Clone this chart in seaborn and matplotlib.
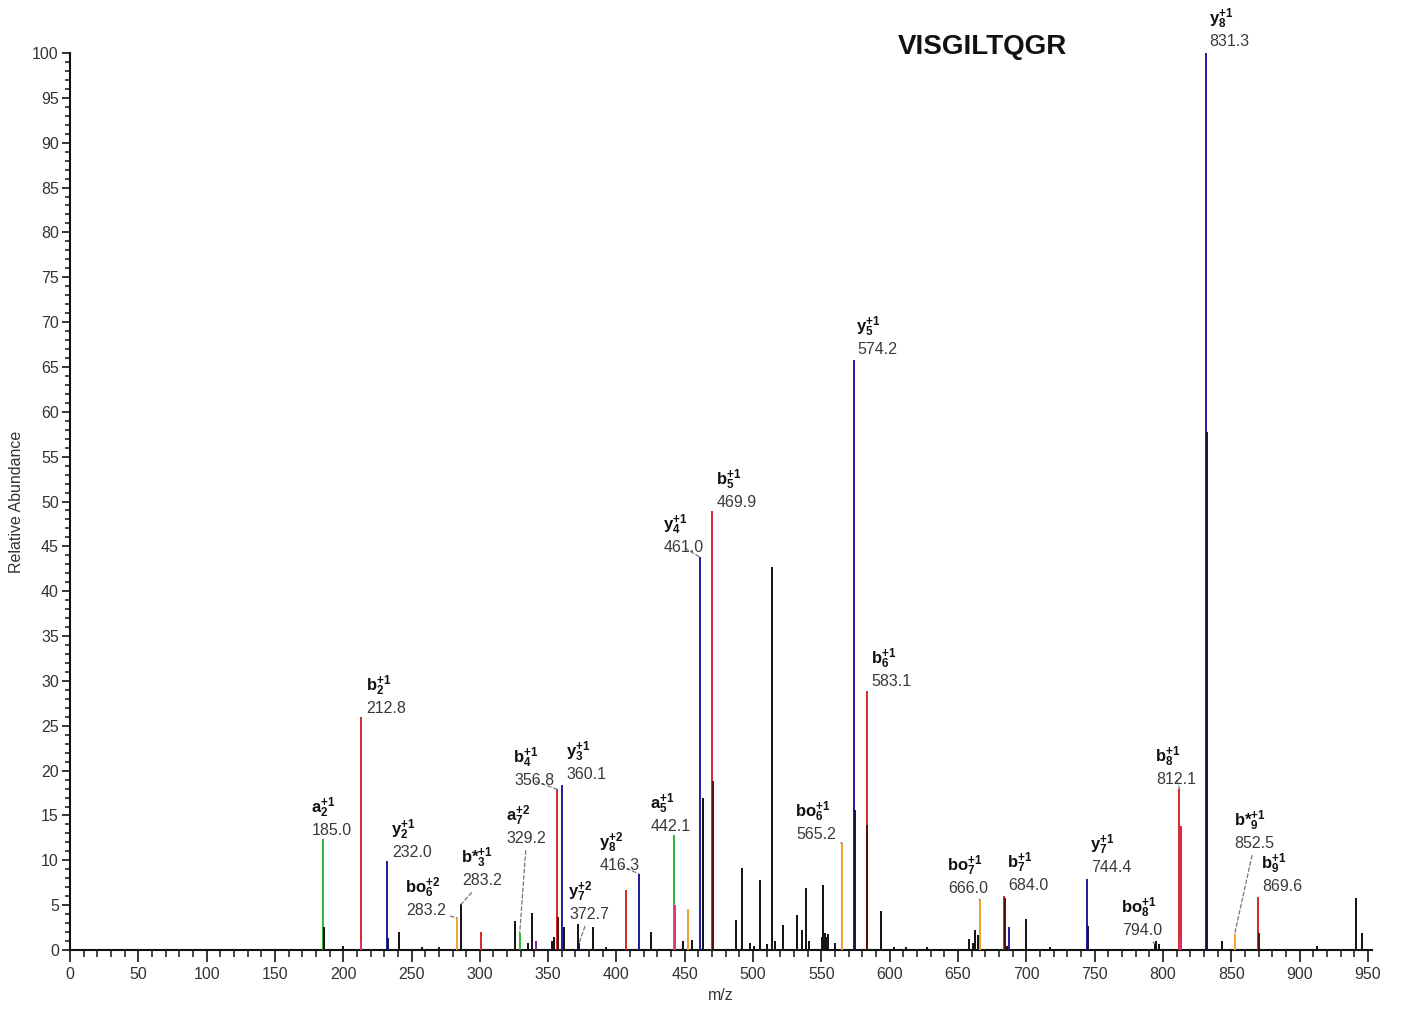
import numpy as np
import pandas as pd
import seaborn as sns
import matplotlib.pyplot as plt
from matplotlib.ticker import MultipleLocator

# Annotated fragment ions (peak position, intensity, label number, ion type)
ion_names = ["a", "b", "y", "bo", "b*", "a", "b", "y", "y", "y", "a", "y", "b",
             "bo", "y", "b", "bo", "b", "y", "bo", "b", "y", "b*", "b"]
ion_index = ["2", "2", "2", "6", "3", "7", "4", "3", "7", "8", "5", "4", "5",
             "6", "5", "6", "7", "7", "7", "8", "8", "8", "9", "9"]
ion_charge = ["+1", "+1", "+1", "+2", "+1", "+2", "+1", "+1", "+2", "+2", "+1", "+1", "+1",
              "+1", "+1", "+1", "+1", "+1", "+1", "+1", "+1", "+1", "+1", "+1"]
ion_text = ["185.0", "212.8", "232.0", "283.2", "283.2", "329.2", "356.8", "360.1",
            "372.7", "416.3", "442.1", "461.0", "469.9", "565.2", "574.2", "583.1",
            "666.0", "684.0", "744.4", "794.0", "812.1", "831.3", "852.5", "869.6"]
ion_mz = [185.0, 212.8, 232.0, 283.2, 286.3, 329.2, 356.8, 360.1, 372.7, 416.3,
          442.1, 461.0, 469.9, 565.2, 574.2, 583.1, 666.0, 684.0, 744.4, 794.0,
          812.1, 831.3, 852.5, 869.6]
ion_int = [12.4, 26.0, 9.9, 3.6, 5.1, 1.9, 17.9, 18.4, 0.8, 8.5, 12.8, 43.8, 48.9,
           11.9, 65.8, 28.9, 5.6, 6.0, 7.9, 0.7, 18.0, 100.0, 1.8, 5.9]
ion_kind = ["a", "b", "y", "bo", "other", "a", "b", "y", "ydark", "y", "a", "y", "b",
            "bo", "y", "b", "bo", "b", "y", "other", "b", "y", "bo", "b"]

# Secondary coloured peaks next to the annotated ones
extra_mz = [213.3, 232.5, 301.0, 341.0, 357.4, 407.0, 442.7, 452.4, 470.5, 574.8,
            583.7, 684.6, 687.5, 745.0, 812.9, 812.5, 831.9, 870.0, 666.4]
extra_int = [0.9, 1.3, 2.0, 1.0, 3.7, 6.7, 5.0, 4.6, 18.8, 15.6,
             13.9, 5.8, 2.6, 2.7, 13.8, 1.3, 57.7, 1.9, 4.0]
extra_kind = ["pink", "ydark", "b", "purple", "bdark", "b", "pink", "bo", "bdark", "ydark",
              "bdark", "bdark", "y", "ydark", "b8", "pink", "ydark", "bdark", "bo"]

# Unassigned peaks
other_mz = [185.6, 200.0, 240.8, 258.0, 270.0, 326.0, 335.0, 338.5, 352.5, 354.0,
            361.5, 372.0, 383.0, 392.0, 425.5, 449.0, 455.0, 463.0, 487.7, 492.0,
            498.0, 501.0, 504.8, 510.0, 514.0, 516.0, 521.8, 532.0, 536.0, 538.5,
            541.0, 550.5, 551.5, 552.5, 553.5, 554.5, 560.0, 593.5, 603.0, 612.0,
            627.0, 658.0, 661.0, 662.5, 664.5, 686.0, 699.5, 717.0, 795.0, 797.0,
            843.0, 913.0, 941.0, 946.0]
other_int = [2.6, 0.4, 2.0, 0.3, 0.3, 3.2, 0.8, 4.1, 1.0, 1.5,
             2.6, 2.9, 2.6, 0.3, 2.0, 1.0, 1.1, 17.0, 3.3, 9.1,
             0.8, 0.5, 7.8, 0.7, 42.7, 1.0, 2.8, 3.9, 2.2, 6.9,
             1.0, 1.5, 7.2, 1.9, 1.5, 1.8, 0.8, 4.3, 0.3, 0.3,
             0.3, 1.2, 0.8, 2.2, 1.7, 0.5, 3.5, 0.3, 1.0, 0.7,
             1.0, 0.5, 5.8, 1.9]

palette = {"a": "#2fb52f", "b": "#d42a2a", "y": "#1c1c9c", "bo": "#f5a030",
           "other": "#111111", "ydark": "#12124a", "bdark": "#5a0c0c",
           "pink": "#e2307e", "purple": "#7a2aa0", "b8": "#e0204a"}

# label placement: offset (px) of the number baseline from the peak top, leader line
label_offsets = [(-11, 4, False), (6, 4, False), (5, 4, False), (-51, 3, True),
                 (1, 19, True), (-13, 90, True), (-43, 4, True), (5, 6, False),
                 (-10, 24, True), (-39, 4, True), (-23, 4, False), (-36, 5, True),
                 (5, 4, False), (-46, 4, True), (3, 6, False), (5, 5, False),
                 (-32, 7, True), (4, 6, False), (4, 7, False), (-33, 9, True),
                 (-23, 5, True), (4, 7, False), (0, 86, True), (4, 6, False)]

sns.set_style("ticks")
plt.rcParams["font.family"] = ["Liberation Sans", "DejaVu Sans"]
plt.rcParams["mathtext.fontset"] = "custom"
plt.rcParams["mathtext.rm"] = "Liberation Sans"
plt.rcParams["mathtext.bf"] = "Liberation Sans:bold"
plt.rcParams["mathtext.it"] = "Liberation Sans:italic"

fig = plt.figure(figsize=(14.02, 10.11), dpi=100)
ax = fig.add_axes([0.0499, 0.0603, 0.9287, 0.8873])

peaks = pd.concat([
    pd.DataFrame({"mz": other_mz, "intensity": other_int, "kind": "other"}),
    pd.DataFrame({"mz": extra_mz, "intensity": extra_int, "kind": extra_kind}),
    pd.DataFrame({"mz": ion_mz, "intensity": ion_int, "kind": ion_kind}),
])
# draw big coloured peaks first, then the smaller companions on top
peaks = peaks.sort_values("intensity", ascending=False)
for _, row in peaks.iterrows():
    ax.vlines(row["mz"], 0, row["intensity"], color=palette[row["kind"]],
              linewidth=1.4, clip_on=False, zorder=3)

# labels
for i in range(len(ion_mz)):
    dx, dy, leader = label_offsets[i]
    xy = (ion_mz[i], ion_int[i])
    arrow = None
    if leader:
        arrow = dict(arrowstyle="-", linestyle=(0, (3, 2)), color="#777777",
                     linewidth=0.9, shrinkA=1, shrinkB=0)
    ax.annotate(ion_text[i], xy=xy, xytext=(dx, dy), textcoords="offset pixels",
                ha="left", va="baseline", fontsize=11.5, color="#3a3a3a",
                arrowprops=arrow, annotation_clip=False, zorder=5)
    name = ion_names[i].replace("*", "{*}")
    lab = r"$\mathbf{%s}_{\mathbf{%s}}^{\mathbf{%s}}$" % (name, ion_index[i], ion_charge[i])
    ax.annotate(lab, xy=xy, xytext=(dx - 1, dy + 15), textcoords="offset pixels",
                ha="left", va="bottom", fontsize=12, color="#111111",
                annotation_clip=False, zorder=5)

ax.set_xlim(0, 953)
ax.set_ylim(0, 100)
ax.xaxis.set_major_locator(MultipleLocator(50))
ax.xaxis.set_minor_locator(MultipleLocator(10))
ax.yaxis.set_major_locator(MultipleLocator(5))
ax.yaxis.set_minor_locator(MultipleLocator(1))
ax.tick_params(axis="x", which="major", length=8.5, width=1.3, labelsize=11.5,
               labelcolor="#333333", direction="out", pad=4)
ax.tick_params(axis="x", which="minor", length=5, width=1.2, direction="out")
ax.tick_params(axis="y", which="major", length=6, width=1.3, labelsize=11.5,
               labelcolor="#333333", direction="out", pad=2)
ax.tick_params(axis="y", which="minor", length=3.5, width=1.2, direction="out")
sns.despine(ax=ax)
for s in ["left", "bottom"]:
    ax.spines[s].set_linewidth(1.5)
    ax.spines[s].set_color("#111111")

ax.set_xlabel("m/z", fontsize=11.5, color="#333333", labelpad=4)
ax.set_ylabel("Relative Abundance", fontsize=11.5, color="#333333", labelpad=6)
fig.text(0.701, 0.954, "VISGILTQGR", fontsize=20, fontweight="bold",
         ha="center", va="center", color="#111111")

fig.savefig("out.png", dpi=100)
